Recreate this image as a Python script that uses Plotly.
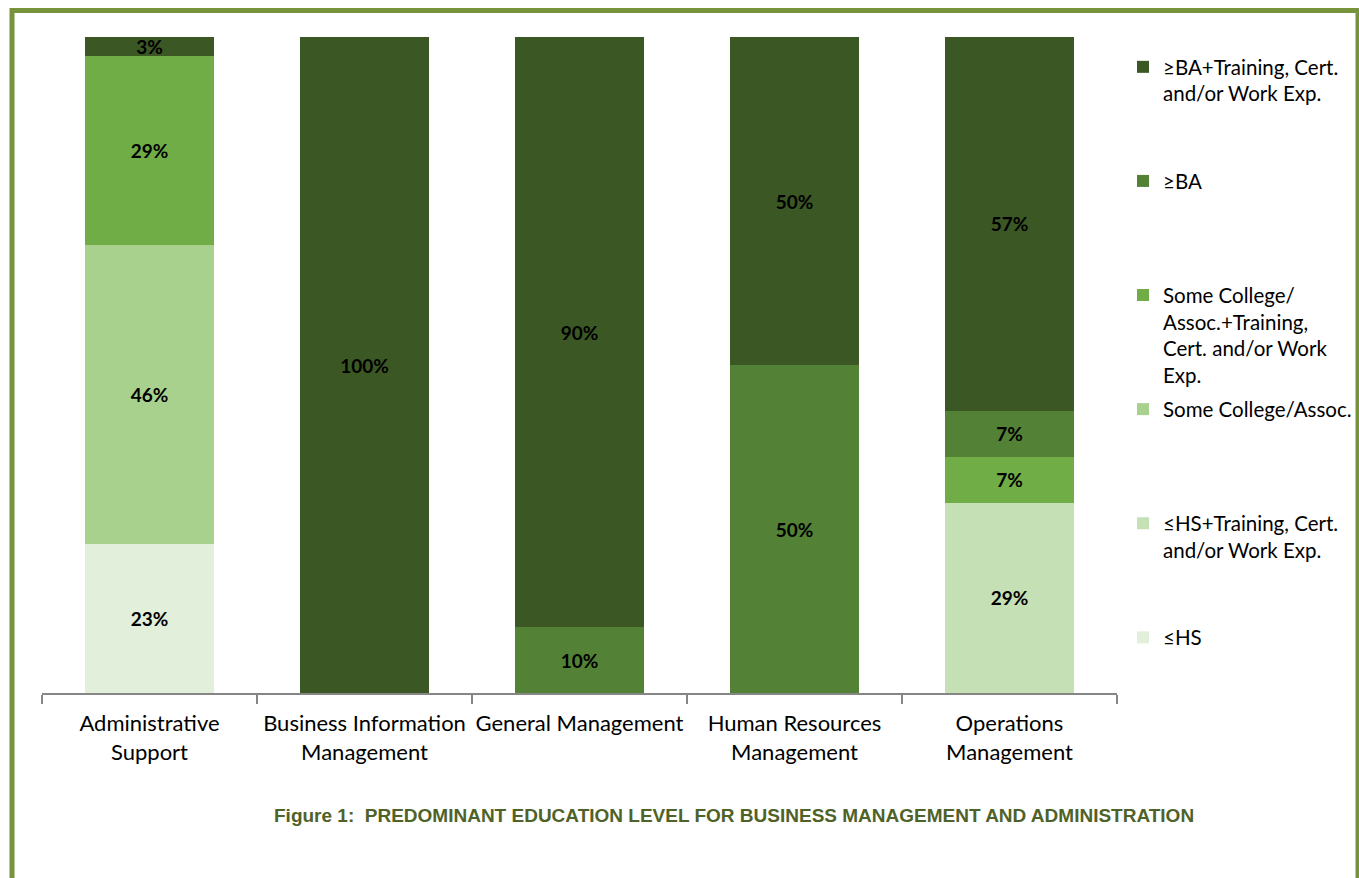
import plotly.graph_objects as go

categories = ["Administrative<br>Support", "Business Information<br>Management",
              "General Management", "Human Resources<br>Management", "Operations<br>Management"]

series_names = [
    "≤HS",
    "≤HS+Training, Cert.<br>and/or Work Exp.",
    "Some College/Assoc.",
    "Some College/<br>Assoc.+Training,<br>Cert. and/or Work<br>Exp.",
    "≥BA",
    "≥BA+Training, Cert.<br>and/or Work Exp.",
]

hs = [23, 0, 0, 0, 0]
hs_training = [0, 0, 0, 0, 29]
some_college = [46, 0, 0, 0, 0]
some_college_training = [29, 0, 0, 0, 7]
ba = [0, 0, 10, 50, 7]
ba_training = [3, 100, 90, 50, 57]

series_values = [hs, hs_training, some_college, some_college_training, ba, ba_training]
colors = ["#E2EFDA", "#C5E0B4", "#A9D18E", "#70AD47", "#538135", "#3B5724"]

W, H = 1359, 878
L, R, T, B = 42, 1117, 37, 693
pw, ph = R - L, B - T


def px_x(x):
    return (x - L) / pw


def px_y(y):
    return (B - y) / ph


def pad_lines(name, total=4):
    n = name.count("<br>") + 1
    return name + "<br>\u00a0" * (total - n)


fig = go.Figure()
for i, (name, vals, col) in enumerate(zip(series_names, series_values, colors)):
    fig.add_trace(go.Bar(
        x=categories, y=vals, name=pad_lines(name),
        marker=dict(color=col, line=dict(width=0)),
        text=[f"{v}%" if v > 0 else "" for v in vals],
        textposition="inside", insidetextanchor="middle",
        textangle=0, constraintext="none",
        textfont=dict(family="Lato, Arial", size=19, color="#000000", weight="bold"),
        legendgroup=f"g{i}", legendrank=1000 - i,
        hoverinfo="skip",
    ))

fig.update_layout(
    width=W, height=H,
    barmode="stack", barnorm="percent", bargap=0.4,
    plot_bgcolor="white", paper_bgcolor="white",
    margin=dict(l=L, r=W - R, t=T, b=H - B, autoexpand=False),
    font=dict(family="Lato, Arial", size=20, color="#000000"),
    xaxis=dict(showline=True, linecolor="#868686", linewidth=1.5,
               ticks="outside", tickson="boundaries", ticklen=9, tickcolor="#868686",
               tickwidth=1.5, tickangle=0, ticklabelstandoff=10,
               tickfont=dict(size=22, color="#000000"), showgrid=False),
    yaxis=dict(range=[0, 100], visible=False, showgrid=False),
    legend=dict(
        xref="container", yref="container",
        x=1123 / W, y=1 - 47 / H, xanchor="left", yanchor="top",
        traceorder="grouped", tracegroupgap=4.5, valign="top", maxheight=860,
        font=dict(family="Lato, Arial", size=20.5, color="#000000"),
        bgcolor="rgba(0,0,0,0)",
    ),
    showlegend=True,
    annotations=[dict(
        xref="paper", yref="paper", x=px_x(734), y=px_y(815),
        xanchor="center", yanchor="middle", showarrow=False,
        text="<b>Figure 1:  PREDOMINANT EDUCATION LEVEL FOR BUSINESS MANAGEMENT AND ADMINISTRATION</b>",
        font=dict(family="Liberation Sans Narrow, Arial Narrow, Arial", size=19, color="#4F6228"),
    )],
    shapes=[dict(
        type="rect", xref="paper", yref="paper",
        x0=px_x(12), x1=px_x(1358), y0=px_y(900), y1=px_y(10.5),
        line=dict(color="#77933C", width=5), fillcolor="rgba(0,0,0,0)", layer="below",
    )],
)

fig.write_html("out.html", config={"displayModeBar": False},
               post_script="document.body.style.margin='0';document.body.style.overflow='hidden';")
